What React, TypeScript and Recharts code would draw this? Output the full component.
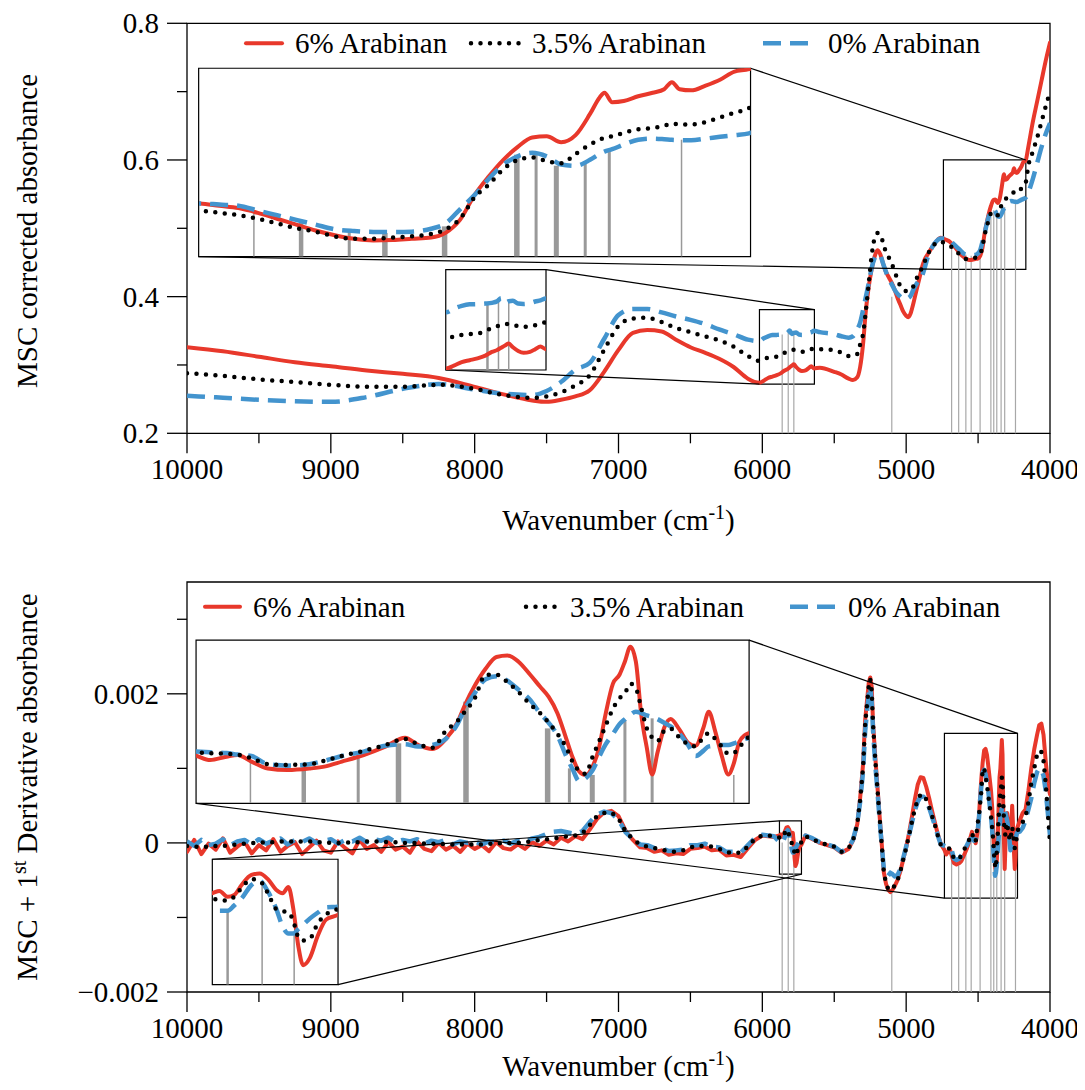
import React from 'react';
import { LineChart, Line, XAxis, YAxis, ReferenceLine, ReferenceArea } from 'recharts';

const FONT = '"Liberation Serif", "Times New Roman", Times, serif';

// ---------------- data ----------------
const seriesNames = ['6% Arabinan', '3.5% Arabinan', '0% Arabinan'];

const xTicks = [10000, 9500, 9000, 8500, 8000, 7500, 7000, 6500, 6000, 5500, 5000, 4500, 4000];
const xTickLabels = ['10000', '', '9000', '', '8000', '', '7000', '', '6000', '', '5000', '', '4000'];

const topYTicks = [0.2, 0.3, 0.4, 0.5, 0.6, 0.7, 0.8];
const topYTickLabels = ['0.2', '', '0.4', '', '0.6', '', '0.8'];
const lowYTicks = [-0.002, -0.001, 0, 0.001, 0.002, 0.003];
const lowYTickLabels = ['\u22120.002', '', '0', '', '0.002', ''];

// wavenumbers of the grey marker lines
const markerWn = [5862, 5820, 5781, 5100, 4684, 4635, 4585, 4548, 4486, 4411, 4391, 4370, 4340, 4315, 4240];
const topMarkerTop = [0.3445, 0.348, 0.348, 0.4, 0.4797, 0.4684, 0.4612, 0.4599, 0.4655, 0.5264, 0.5264, 0.517, 0.5193, 0.5312, 0.5391];
const lowMarkerTop = [0.000004, 0.000156, -0.00014, -0.00065, -0.000176, -0.000244, -0.000085, 0.000072, 0.000636, 0.000274, -0.000267, -0.000356, 0.000388, 0.00041, -0.000356];

// ---- MSC corrected absorbance ----
const topWn = [
  10000, 9750, 9500, 9250, 9000, 8750, 8500, 8250, 8000, 7800, 7600, 7500, 7400, 7300, 7200, 7100, 7000, 6900, 6800, 6700, 6600, 6500, 6400, 6300, 6200, 6100,
  6020, 5990, 5960, 5930, 5900, 5870, 5845, 5825, 5810, 5795, 5781, 5765, 5745, 5725, 5700, 5680, 5660, 5640,
  5600, 5500, 5450, 5400, 5370, 5340, 5320, 5300, 5280, 5260, 5240, 5220, 5200, 5180, 5160, 5140, 5120, 5100, 5080, 5060, 5040, 5020, 5000, 4985, 4970, 4950, 4930, 4910, 4890, 4870, 4850, 4820, 4790, 4760,
  4740, 4720, 4700, 4680, 4660, 4640, 4620, 4600, 4580, 4560, 4540, 4520, 4500, 4485, 4470, 4455, 4440, 4425, 4410, 4395, 4380, 4365, 4350, 4335, 4325, 4320, 4312, 4300, 4285, 4270, 4258, 4250, 4242, 4230, 4215, 4200, 4185, 4170,
  4150, 4120, 4090, 4060, 4030, 4000,
];
const topRed = [
  0.326, 0.32, 0.312, 0.304, 0.298, 0.292, 0.287, 0.281, 0.268, 0.257, 0.248, 0.246, 0.249, 0.254, 0.263, 0.29, 0.322, 0.347, 0.351, 0.349, 0.337, 0.326, 0.318, 0.309, 0.297, 0.28,
  0.274, 0.277, 0.281, 0.283, 0.285, 0.288, 0.292, 0.294, 0.2965, 0.299, 0.301, 0.297, 0.293, 0.291, 0.292, 0.295, 0.298, 0.295,
  0.296, 0.29, 0.286, 0.28, 0.278, 0.282, 0.297, 0.33, 0.38, 0.415, 0.44, 0.458, 0.468, 0.462, 0.448, 0.436, 0.428, 0.42, 0.41, 0.398, 0.388, 0.378, 0.372, 0.37, 0.375, 0.39, 0.408, 0.425, 0.443, 0.455, 0.462, 0.472, 0.481, 0.486,
  0.485, 0.483, 0.481, 0.477, 0.472, 0.467, 0.462, 0.458, 0.455, 0.4536, 0.454, 0.455, 0.456, 0.46, 0.471, 0.492, 0.508, 0.522, 0.533, 0.541, 0.542, 0.537, 0.543, 0.561, 0.575, 0.579, 0.571, 0.572, 0.576, 0.579, 0.582, 0.588, 0.582, 0.581, 0.585, 0.59, 0.597, 0.599,
  0.62, 0.655, 0.685, 0.715, 0.745, 0.772,
];
const topBlack = [
  0.288, 0.284, 0.279, 0.275, 0.271, 0.268, 0.268, 0.271, 0.265, 0.256, 0.252, 0.254, 0.26, 0.27, 0.285, 0.322, 0.357, 0.368, 0.369, 0.363, 0.354, 0.348, 0.342, 0.336, 0.327, 0.313,
  0.306, 0.309, 0.3105, 0.3115, 0.312, 0.3148, 0.318, 0.32, 0.3215, 0.3225, 0.322, 0.3213, 0.32, 0.319, 0.3205, 0.321, 0.323, 0.324,
  0.323, 0.322, 0.318, 0.313, 0.313, 0.316, 0.33, 0.345, 0.38, 0.42, 0.46, 0.485, 0.493, 0.492, 0.478, 0.465, 0.457, 0.448, 0.437, 0.425, 0.415, 0.41, 0.408, 0.408, 0.41, 0.415, 0.425, 0.435, 0.442, 0.452, 0.462, 0.472, 0.479, 0.481,
  0.479, 0.477, 0.475, 0.472, 0.468, 0.464, 0.461, 0.457, 0.455, 0.455, 0.456, 0.457, 0.459, 0.463, 0.472, 0.49, 0.501, 0.514, 0.522, 0.524, 0.521, 0.519, 0.527, 0.535, 0.539, 0.541, 0.542, 0.545, 0.548, 0.549, 0.551, 0.553, 0.552, 0.552, 0.554, 0.558, 0.562, 0.566,
  0.592, 0.612, 0.632, 0.655, 0.678, 0.7,
];
const topBlue = [
  0.255, 0.252, 0.249, 0.247, 0.246, 0.253, 0.265, 0.272, 0.264, 0.258, 0.256, 0.262, 0.275, 0.293, 0.303, 0.338, 0.373, 0.382, 0.382, 0.377, 0.371, 0.366, 0.36, 0.352, 0.345, 0.337,
  0.335, 0.339, 0.342, 0.3437, 0.344, 0.3445, 0.3453, 0.347, 0.3503, 0.3455, 0.347, 0.3475, 0.3445, 0.344, 0.345, 0.3468, 0.348, 0.35,
  0.348, 0.345, 0.342, 0.34, 0.342, 0.352, 0.362, 0.38, 0.4, 0.42, 0.442, 0.456, 0.462, 0.46, 0.448, 0.436, 0.425, 0.418, 0.41, 0.404, 0.4, 0.397, 0.397, 0.398, 0.401, 0.41, 0.418, 0.424, 0.43, 0.443, 0.458, 0.472, 0.481, 0.485,
  0.485, 0.484, 0.483, 0.479, 0.475, 0.471, 0.467, 0.463, 0.4615, 0.4608, 0.4607, 0.461, 0.4635, 0.468, 0.48, 0.492, 0.506, 0.518, 0.525, 0.528, 0.525, 0.518, 0.517, 0.522, 0.527, 0.529, 0.531, 0.535, 0.539, 0.54, 0.5395, 0.539, 0.5388, 0.5386, 0.54, 0.5416, 0.543, 0.5445,
  0.553, 0.572, 0.595, 0.618, 0.638, 0.654,
];

// ---- MSC + 1st derivative absorbance ----
const lowWn = [
  10000, 9950, 9900, 9850, 9800, 9750, 9700, 9650, 9600, 9550,
  9500, 9450, 9400, 9350, 9300, 9250, 9200, 9150, 9100, 9050,
  9000, 8950, 8900, 8850, 8800, 8750, 8700, 8650, 8600, 8550,
  8500, 8450, 8400, 8350, 8300, 8250, 8200, 8150, 8100, 8050,
  8000, 7950, 7900, 7850, 7800, 7750, 7700, 7650, 7600, 7550,
  7500, 7450, 7400, 7350, 7300, 7250, 7200, 7150, 7100, 7050,
  7000, 6950, 6900, 6850, 6800, 6750, 6700, 6650, 6600, 6550,
  6500, 6450, 6400, 6350, 6300, 6250, 6200, 6150, 6100, 6050,
  6000, 5960, 5920,
  5881, 5872, 5862, 5854, 5845, 5833, 5823, 5813, 5803, 5795, 5788, 5782, 5776, 5770, 5762, 5752, 5742, 5728,
  5700, 5650, 5600, 5550, 5500, 5450, 5400, 5370, 5340, 5320, 5300, 5285, 5270, 5260, 5250, 5240, 5230, 5215, 5200, 5185,
  5170, 5155, 5140, 5125, 5110, 5095, 5080, 5060, 5040, 5020, 5000, 4980, 4960, 4940, 4920, 4900, 4880, 4860, 4840, 4820,
  4800, 4780, 4760,
  4734, 4721, 4706, 4696, 4683, 4668, 4650, 4630, 4615, 4600, 4580, 4560, 4542, 4530, 4517, 4504, 4494, 4487, 4478, 4468,
  4458, 4448, 4438, 4427, 4418, 4410, 4402, 4394, 4388, 4382, 4376, 4370, 4364, 4358, 4351, 4345, 4340, 4335, 4330, 4325,
  4320, 4315, 4310, 4304, 4298, 4290, 4282, 4275, 4268, 4263, 4257, 4251, 4245, 4240, 4235, 4230, 4226,
  4210, 4190, 4170, 4150, 4130, 4110, 4090, 4075, 4060, 4045, 4030, 4015, 4000,
];
const lowRed = [
  -0.00012, 0.00004, -0.00015, -0.00001, -0.00009, 0.00006, -0.00013, -0.00005, 0.00002, -0.00014,
  -0.00003, -0.0001, 0.00005, -0.00012, -0.00004, 0.00001, -0.00015, -0.00006, 0.00003, -0.0001,
  -0.00013, 0.00002, -0.00007, -0.00014, 0.00004, -0.00008, -0.00003, -0.00012, 0.00001, -0.00009,
  -0.00005, -0.00013, 0.00002, -0.00008, -0.00011, 0, -0.00009, -0.00004, -0.00012, -0.00001,
  -0.00008, -0.00003, -0.00011, 0.00001, -0.00007, -0.00009, -0.00002, -0.00008, 0.00001, -0.00004,
  0.00003, -0.00002, 0.00007, 0.00002, 0.00009, 0.00005, 0.00018, 0.00032, 0.00041, 0.00043,
  0.00036, 0.00016, 0.00004, -0.00006, -0.00007, -0.00012, -0.0001, -0.00016, -0.00014, -0.00015,
  -0.00008, -0.00007, -0.00005, -0.0001, -0.00009, -0.00017, -0.00016, -0.00019, -0.00007, 0.00004,
  0.0001, 0.00009, 0.00008,
  0.0001, 0.000113, 0.00008, 0.00009, 0.000147, 0.000204, 0.000212, 0.00018, 0.00012, 0.0001, 0.000135, 0.00001, -0.0002, -0.00031, -0.00027, -0.00014, -0.00005, -0.000024,
  0.0001, 0.00005, 0, -0.00003, -0.00006, -0.00013, -0.00008, 0.00003, 0.00025, 0.0006, 0.00105, 0.00165, 0.00195, 0.00215, 0.00222, 0.0021, 0.0016, 0.00116, 0.00076, 0.00037,
  -0.00001, -0.0004, -0.00055, -0.00063, -0.00066, -0.00063, -0.00058, -0.0005, -0.00038, -0.00022, -0.00006, 0.00013, 0.00035, 0.00058, 0.00078, 0.00088, 0.00087, 0.00075, 0.0006, 0.00043,
  0.00027, 0.00012, -0.00001,
  -0.000095, -0.000154, -0.000109, -0.000086, -0.000176, -0.00027, -0.00029, -0.00027, -0.00024, -0.000176, -0.000086, 0.000027, 0.000148, 0.00005, -0.000005, 0.00014, 0.00035, 0.00059, 0.00085, 0.00108,
  0.00124, 0.00126, 0.00118, 0.001, 0.00084, 0.0007, 0.00048, 0.00014, -0.00012, -0.00031, -0.00036, -0.00025, 0, 0.00045, 0.00088, 0.001, 0.00118, 0.00138, 0.00118, 0.00046,
  0.00002, -0.00035, -0.00005, 0.00028, 0.0004, 0.00026, 0.00008, 0.00004, 0.00028, 0.0005, 0.00023, -0.0001, -0.00035, -0.0002, 0.00009, 0.00018, 0.00021,
  0.0003, 0.0004, 0.00045, 0.0007, 0.001, 0.00125, 0.00145, 0.00158, 0.0016, 0.00145, 0.0011, 0.0008, 0.00065,
];
const lowBlack = [
  -0.00004, -0.00005, -0.00005, -0.00005, -0.00004, -0.00004, -0.00003, -0.00002, -0.00001, 0,
  0, 0.00001, 0.00001, 0.00002, 0.00002, 0.00002, 0.00002, 0.00002, 0.00001, 0.00001,
  0, 0, 0, 0.00001, 0.00001, 0.00002, 0.00002, 0.00002, 0.00001, 0.00001,
  0, 0, 0, -0.00001, -0.00001, -0.00001, -0.00002, -0.00002, -0.00002, -0.00002,
  -0.00002, -0.00002, -0.00001, -0.00001, 0, 0, 0, 0.00001, 0.00002, 0.00004,
  0.00005, 0.00006, 0.00008, 0.00009, 0.0001, 0.00013, 0.00024, 0.00036, 0.0004, 0.00041,
  0.00033, 0.00015, 0.00005, -0.00002, -0.00005, -0.00007, -0.00009, -0.00011, -0.00012, -0.0001,
  -0.00006, -0.00004, -0.00004, -0.00005, -0.00008, -0.00012, -0.00014, -0.00013, -0.00005, 0.00006,
  0.0001, 0.0001, 0.00009,
  0.00007, 0.00006, 0.000058, 0.00008, 0.00013, 0.00018, 0.00017, 0.0001, 0.00001, -0.000003, -0.000008, -0.00006, -0.00015, -0.00017, -0.00016, -0.00007, -0.00002, 0.00001,
  0.00009, 0.00005, 0, -0.00002, -0.00005, -0.00012, -0.00007, 0.00003, 0.00025, 0.00058, 0.001, 0.0016, 0.0019, 0.0021, 0.0022, 0.00205, 0.00158, 0.00112, 0.00073, 0.00035,
  -0.00002, -0.0004, -0.00054, -0.00062, -0.00064, -0.00062, -0.00057, -0.0005, -0.00038, -0.00022, -0.00007, 0.0001, 0.00028, 0.00045, 0.00058, 0.00065, 0.00065, 0.00058, 0.00048, 0.00036,
  0.00024, 0.0001, -0.00002,
  -0.00005, -0.00006, -0.00007, -0.00008, -0.00013, -0.00021, -0.00022, -0.00021, -0.00016, -0.0001, -0.00003, 0.00005, 0.00013, 0.00006, 0.00001, 0.00025, 0.00037, 0.0005, 0.00068, 0.001,
  0.001, 0.0009, 0.00077, 0.0006, 0.00048, 0.00035, 0.0002, 0.00002, -0.00018, -0.0003, -0.00034, -0.00012, 0.00009, 0.0003, 0.00054, 0.00068, 0.00075, 0.00088, 0.00082, 0.00055,
  0.00028, 0.00015, 0.0001, 0.00024, 0.00027, 0.00015, 0.00006, 0.00003, 0.00015, 0.00021, 0.00013, 0.00003, -0.00007, -0.00006, 0.00002, 0.0001, 0.00016,
  0.00022, 0.00028, 0.00035, 0.00055, 0.0008, 0.001, 0.00118, 0.00124, 0.00122, 0.0011, 0.0008, 0.0004, 0,
];
const lowBlue = [
  0.00002, -0.00004, 0.00004, -0.00003, -0.00001, 0.00005, -0.00003, 0.00002, 0.00004, -0.00002,
  0.00005, -0.00001, 0.00003, 0.00006, -0.00002, 0.00004, 0.00001, 0.00006, 0, 0.00003,
  0.00005, -0.00001, 0.00004, 0.00002, 0.00007, 0.00001, 0.00005, 0.00003, 0.00007, 0.00001,
  0.00004, 0.00002, 0.00005, -0.00001, 0.00003, 0.00001, 0.00004, -0.00002, 0.00002, 0,
  0.00002, -0.00002, 0.00002, 0.00001, 0.00003, -0.00001, 0.00003, 0.00002, 0.00006, 0.00008,
  0.00012, 0.00015, 0.00016, 0.00014, 0.00012, 0.00016, 0.00028, 0.00038, 0.00042, 0.0004,
  0.00031, 0.00014, 0.00005, -0.00002, -0.00003, -0.00007, -0.00007, -0.00011, -0.0001, -0.00009,
  -0.00003, -0.00003, -0.00001, -0.00005, -0.00006, -0.00012, -0.00012, -0.00013, -0.00003, 0.00007,
  0.00011, 0.0001, 0.00009,
  0.000014, 0, 0, 0.00003, 0.00007, 0.000147, 0.00017, 0.00011, 0.000014, -0.00009, -0.00013, -0.00013, -0.000105, -0.00008, -0.000045, -0.00001, 0.00002, 0.000023,
  0.0001, 0.00006, 0.00001, -0.00002, -0.00005, -0.00012, -0.00006, 0.00004, 0.00026, 0.00055, 0.00095, 0.0015, 0.0018, 0.002, 0.0021, 0.0019, 0.0015, 0.00105, 0.0007, 0.00032,
  -0.00003, -0.00035, -0.00042, -0.00044, -0.0004, -0.00042, -0.00045, -0.00043, -0.00035, -0.0002, -0.00005, 0.0001, 0.00027, 0.00043, 0.00055, 0.00062, 0.00062, 0.00055, 0.00047, 0.00035,
  0.00023, 0.0001, -0.00002,
  -0.00004, -0.00005, -0.00006, -0.00008, -0.0001, -0.00021, -0.00023, -0.00021, -0.00016, -0.0001, -0.00004, 0.00004, 0.00006, 0.00003, 0.00005, 0.00014, 0.00033, 0.00054, 0.00075, 0.00094,
  0.00098, 0.00092, 0.0008, 0.00066, 0.00048, 0.00035, 0.00018, -0.0001, -0.00028, -0.00044, -0.0004, -0.0003, -0.00012, 0.00005, 0.0002, 0.00033, 0.0004, 0.00046, 0.0005, 0.00048,
  0.00045, 0.00043, 0.0004, 0.00035, 0.0003, 0.0002, 0.00005, -0.0001, -0.00003, 0.00003, 0.00004, 0.00005, 0.00005, 0.00007, 0.0001, 0.00013, 0.00014,
  0.00015, 0.0002, 0.0003, 0.00045, 0.0006, 0.0008, 0.00095, 0.001, 0.00098, 0.0009, 0.0007, 0.0004, 0.0001,
];

const topData = topWn.map((w, i) => ({ w, red: topRed[i], black: topBlack[i], blue: topBlue[i] }));
const lowData = lowWn.map((w, i) => ({ w, red: lowRed[i], black: lowBlack[i], blue: lowBlue[i] }));

// ---------------- styles / layout ----------------
const RED = '#E8382B';
const BLUE = '#4394CE';
const BLACK = '#000000';
const SERIES = {
  red: { color: RED, width: 4, dash: undefined as string | undefined, cap: 'round' },
  blue: { color: BLUE, width: 4.5, dash: '18 9', cap: 'butt' },
  black: { color: BLACK, width: 4.5, dash: '0 9.5', cap: 'round' },
};
const DRAW_ORDER: Array<'red' | 'blue' | 'black'> = ['red', 'blue', 'black'];
const insetMarkerWidth = [2.5, 1.5, 1.5, 1.5, 1.5, 4.5, 3, 5.5, 5.5, 5.5, 3, 5, 3, 3, 1.5];

const W = 1077;
const CH = 510;
const PLOT_LEFT = 179;
const PLOT_W = 863;
const PLOT_H = 410;

type Win = { x1: number; x2: number; y1: number; y2: number };
type InsetCfg = { src: Win; box: Win; links: Array<[string, string]> };

const corner = (r: Win, c: string) => ({
  x: c[1] === 'l' ? r.x1 : r.x2,
  y: c[0] === 't' ? r.y2 : r.y1,
});

const PANELS = [
  {
    id: 'top',
    chartTop: 0,
    plotTop: 15.3,
    data: topData,
    curve: 'monotone',
    yDomain: [0.2, 0.8] as [number, number],
    yTicks: topYTicks,
    yLabels: topYTickLabels,
    markerTop: topMarkerTop,
    insets: [
      { src: { x1: 4741, x2: 4168, y1: 0.44, y2: 0.6 }, box: { x1: 9919, x2: 6082, y1: 0.4585, y2: 0.7342 }, links: [['tr', 'tr'], ['bl', 'bl']] },
      { src: { x1: 6020, x2: 5638, y1: 0.272, y2: 0.381 }, box: { x1: 8201, x2: 7504, y1: 0.2926, y2: 0.4394 }, links: [['tr', 'tr'], ['bl', 'bl']] },
    ] as InsetCfg[],
    legendY: 35.3,
    legend: [
      { l1: 238, l2: 274, tx: 287 },
      { l1: 463, l2: 514, tx: 524 },
      { l1: 755, l2: 807, tx: 820 },
    ],
    xTitleTop: 496,
    yTitleCy: 223,
    yTitle: <span>MSC corrected absorbance</span>,
  },
  {
    id: 'low',
    chartTop: 540,
    plotTop: 574,
    data: lowData,
    curve: 'linear',
    yDomain: [-0.002, 0.0035] as [number, number],
    yTicks: lowYTicks,
    yLabels: lowYTickLabels,
    markerTop: lowMarkerTop,
    insets: [
      { src: { x1: 4734, x2: 4226, y1: -0.00074, y2: 0.00147 }, box: { x1: 9937, x2: 6092, y1: 0.00053, y2: 0.002721 }, links: [['tr', 'tr'], ['bl', 'bl']] },
      { src: { x1: 5881, x2: 5728, y1: -0.00042, y2: 0.000295 }, box: { x1: 9824, x2: 8950, y1: -0.001902, y2: -0.000219 }, links: [['tl', 'tl'], ['br', 'br']] },
    ] as InsetCfg[],
    legendY: 598.7,
    legend: [
      { l1: 197, l2: 232, tx: 245 },
      { l1: 518, l2: 554, tx: 562 },
      { l1: 782, l2: 828, tx: 840 },
    ],
    xTitleTop: 1042,
    yTitleCy: 779,
    yTitle: <span>MSC + 1<span style={{ fontSize: 20, position: 'relative', top: -11, lineHeight: 0 }}>st</span> Derivative absorbance</span>,
  },
];

const renderLines = (curve: string) =>
  DRAW_ORDER.map((k) => {
    const s = SERIES[k];
    return (
      <Line
        key={k}
        type={curve as any}
        dataKey={k}
        stroke={s.color}
        strokeWidth={s.width}
        strokeDasharray={s.dash}
        strokeLinecap={s.cap as any}
        strokeLinejoin="round"
        dot={false}
        activeDot={false}
        isAnimationActive={false}
      />
    );
  });

const XTick = (p: any) => {
  const { x, y, index } = p;
  const label = xTickLabels[index];
  const major = label !== '';
  return (
    <g>
      <line x1={x} x2={x} y1={y} y2={y + (major ? 20 : 10)} stroke="#000" strokeWidth={1.3} />
      {major && (
        <text x={x} y={y + 46} textAnchor="middle" fontFamily={FONT} fontSize={29} fill="#000">
          {label}
        </text>
      )}
    </g>
  );
};

const makeYTick = (labels: string[]) => (p: any) => {
  const { x, y, index } = p;
  const label = labels[index];
  const major = label !== '';
  return (
    <g>
      <line x1={x} x2={x - (major ? 20 : 10)} y1={y} y2={y} stroke="#000" strokeWidth={1.3} />
      {major && (
        <text x={x - 28} y={y + 10} textAnchor="end" fontFamily={FONT} fontSize={29} fill="#000">
          {label}
        </text>
      )}
    </g>
  );
};

function Panel({ cfg }: { cfg: (typeof PANELS)[number] }) {
  const { chartTop, plotTop, data, yDomain, yTicks, yLabels, markerTop, insets } = cfg;
  const px = (w: number) => PLOT_LEFT + ((10000 - w) / 6000) * PLOT_W;
  const py = (v: number) => plotTop + ((yDomain[1] - v) / (yDomain[1] - yDomain[0])) * PLOT_H;
  const mTop = plotTop - chartTop;
  const margin = { top: mTop, left: PLOT_LEFT - 60, right: W - PLOT_LEFT - PLOT_W, bottom: CH - mTop - PLOT_H - 60 };
  const YTick = makeYTick(yLabels);

  return (
    <>
      <div style={{ position: 'absolute', left: 0, top: chartTop }}>
        <LineChart width={W} height={CH} data={data} margin={margin}>
          <XAxis
            type="number"
            dataKey="w"
            domain={[4000, 10000]}
            reversed
            allowDataOverflow
            ticks={xTicks}
            interval={0}
            tickSize={0}
            tickMargin={0}
            tick={(p: any) => <XTick {...p} />}
            axisLine={false}
            tickLine={false}
            height={60}
          />
          <YAxis
            type="number"
            domain={yDomain}
            allowDataOverflow
            ticks={yTicks}
            interval={0}
            tickSize={0}
            tickMargin={0}
            tick={(p: any) => <YTick {...p} />}
            axisLine={false}
            tickLine={false}
            width={60}
          />
          {markerWn.map((w, i) => (
            <ReferenceLine
              key={'m' + i}
              segment={[{ x: w, y: yDomain[0] }, { x: w, y: markerTop[i] }]}
              stroke="#a8a8a8"
              strokeWidth={1.2}
            />
          ))}
          {renderLines(cfg.curve)}
          {insets.map((ins, i) => (
            <ReferenceArea
              key={'s' + i}
              x1={ins.src.x1}
              x2={ins.src.x2}
              y1={ins.src.y1}
              y2={ins.src.y2}
              fill="none"
              fillOpacity={0}
              stroke="#000"
              strokeWidth={1.2}
            />
          ))}
          {insets.map((ins, i) => (
            <ReferenceArea
              key={'b' + i}
              x1={ins.box.x1}
              x2={ins.box.x2}
              y1={ins.box.y1}
              y2={ins.box.y2}
              fill="#ffffff"
              fillOpacity={1}
              stroke="#000"
              strokeWidth={1.2}
            />
          ))}
          {insets.flatMap((ins, i) =>
            ins.links.map((lk, j) => {
              const a = corner(ins.box, lk[0]);
              const b = corner(ins.src, lk[1]);
              return <ReferenceLine key={'l' + i + j} segment={[a, b]} stroke="#000" strokeWidth={1.2} />;
            })
          )}
          <ReferenceArea x1={10000} x2={4000} y1={yDomain[0]} y2={yDomain[1]} fill="none" fillOpacity={0} stroke="#000" strokeWidth={1.3} />
        </LineChart>
      </div>
      {insets.map((ins, i) => {
        const left = px(ins.box.x1);
        const right = px(ins.box.x2);
        const top = py(ins.box.y2);
        const bottom = py(ins.box.y1);
        const ms = markerWn.map((w, k) => ({ w, k })).filter((m) => m.w < ins.src.x1 && m.w > ins.src.x2);
        return (
          <div key={'inset' + i} style={{ position: 'absolute', left, top, width: right - left, height: bottom - top }}>
            <LineChart width={right - left} height={bottom - top} data={data} margin={{ top: 0, left: 0, right: 0, bottom: 0 }}>
              <XAxis type="number" dataKey="w" domain={[ins.src.x2, ins.src.x1]} reversed allowDataOverflow hide />
              <YAxis type="number" domain={[ins.src.y1, ins.src.y2]} allowDataOverflow hide />
              {ms.map((m) => (
                <ReferenceLine
                  key={'im' + m.k}
                  segment={[{ x: m.w, y: ins.src.y1 }, { x: m.w, y: markerTop[m.k] }]}
                  stroke="#999999"
                  strokeWidth={insetMarkerWidth[m.k]}
                />
              ))}
              {renderLines('monotone')}
            </LineChart>
          </div>
        );
      })}
      <svg style={{ position: 'absolute', left: 0, top: 0 }} width={W} height={1082} pointerEvents="none">
        {cfg.legend.map((it, i) => {
          const k = i === 0 ? 'red' : i === 1 ? 'black' : 'blue';
          const s = SERIES[k];
          return (
            <g key={'lg' + i}>
              <line
                x1={it.l1}
                x2={it.l2}
                y1={cfg.legendY}
                y2={cfg.legendY}
                stroke={s.color}
                strokeWidth={s.width}
                strokeDasharray={s.dash}
                strokeLinecap={s.cap as any}
              />
              <text x={it.tx} y={cfg.legendY + 10} fontFamily={FONT} fontSize={29} fill="#000">
                {seriesNames[i]}
              </text>
            </g>
          );
        })}
      </svg>
      <div
        style={{
          position: 'absolute',
          left: PLOT_LEFT + PLOT_W / 2 - 300,
          top: cfg.xTitleTop,
          width: 600,
          height: 32,
          lineHeight: '32px',
          textAlign: 'center',
          fontFamily: FONT,
          fontSize: 29,
          color: '#000',
          whiteSpace: 'nowrap',
        }}
      >
        Wavenumber (cm<span style={{ fontSize: 20, position: 'relative', top: -11, lineHeight: 0 }}>-1</span>)
      </div>
      <div
        style={{
          position: 'absolute',
          left: 19 - 300,
          top: cfg.yTitleCy - 16,
          width: 600,
          height: 32,
          lineHeight: '32px',
          textAlign: 'center',
          fontFamily: FONT,
          fontSize: 29,
          color: '#000',
          whiteSpace: 'nowrap',
          transform: 'rotate(-90deg)',
        }}
      >
        {cfg.yTitle}
      </div>
    </>
  );
}

export default function App() {
  return (
    <div style={{ position: 'relative', width: W, height: 1082, background: '#fff', fontFamily: FONT, overflow: 'hidden' }}>
      {PANELS.map((p) => (
        <Panel key={p.id} cfg={p} />
      ))}
    </div>
  );
}
